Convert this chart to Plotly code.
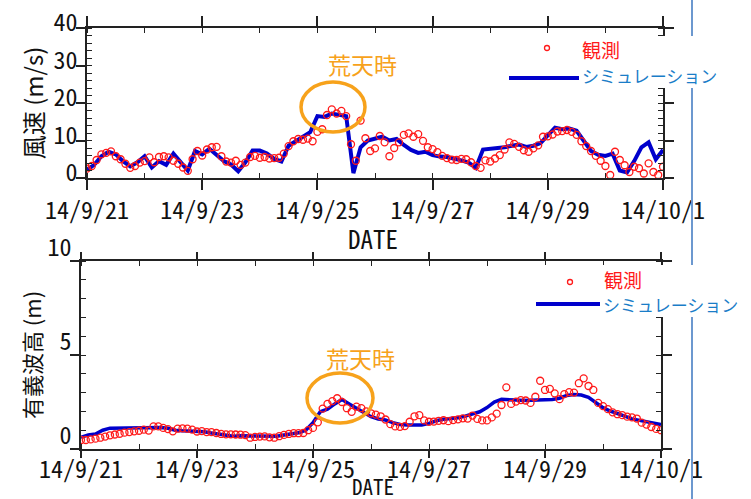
import pandas as pd
import plotly.graph_objects as go

W, H = 751, 499

# ---------------- data ----------------
obs_wind = [
    2.5, 3.2, 4.8, 6.3, 6.7, 7.1, 5.8, 5.0, 3.8, 2.7, 3.2, 4.1,
    4.5, 5.5, 4.2, 5.6, 5.8, 5.5, 4.6, 3.8, 2.8, 1.9, 5.0, 7.2,
    6.0, 7.6, 8.2, 8.3, 5.8, 4.4, 4.1, 4.6, 3.5, 4.1, 5.6, 5.9,
    5.4, 5.6, 5.2, 5.3, 5.4, 6.5, 8.5, 9.8, 10.4, 10.2, 10.5, 9.8,
    12.3, 13.0, 16.8, 18.3, 17.2, 17.9, 16.5, 9.0, 4.6, 15.3, 10.6, 7.2,
    7.9, 11.2, 9.5, 5.8, 8.0, 9.5, 11.5, 11.9, 11.0, 11.7, 9.9, 8.2,
    7.7, 6.9, 5.9, 5.3, 4.9, 4.8, 5.1, 5.0, 4.2, 3.2, 2.7, 4.7,
    4.4, 5.2, 6.1, 7.6, 9.5, 9.1, 8.3, 7.4, 7.0, 7.9, 8.7, 11.0,
    11.1, 11.6, 12.4, 12.5, 12.8, 12.3, 11.5, 9.8, 8.5, 7.2, 5.9, 4.6,
    3.2, 0.8, 7.0, 4.8, 3.4, 1.6, 3.0, 2.6, 1.2, 3.9, 1.6, 0.8,
    3.0,
]
sim_wind = [
    2.2, 3.5, 5.8, 7.0, 6.3, 4.5, 3.1, 4.2,
    5.8, 2.8, 4.5, 3.5, 6.5, 4.2, 2.0, 7.2,
    6.3, 7.8, 6.0, 4.5, 3.6, 1.8, 4.2, 7.3,
    7.3, 6.5, 5.1, 4.4, 8.6, 9.8, 11.0, 12.2,
    16.5, 16.3, 17.2, 16.9, 16.5, 1.3, 8.2, 10.0,
    10.6, 11.0, 10.0, 10.4, 8.8, 7.5, 6.7, 7.0,
    6.1, 5.7, 5.6, 5.2, 4.7, 4.1, 2.7, 7.6,
    7.8, 7.9, 8.2, 8.6, 8.9, 8.3, 8.6, 9.3,
    11.5, 13.4, 13.0, 13.2, 12.6, 10.0, 7.2, 6.2,
    5.9, 6.5, 2.0, 1.5, 4.5, 8.2, 9.5, 5.0,
    7.5,
]
obs_wave = [
    0.48, 0.48, 0.51, 0.55, 0.60, 0.66, 0.73, 0.77, 0.81, 0.87, 0.90, 0.94,
    0.97, 1.03, 0.98, 1.20, 1.20, 1.12, 1.06, 0.94, 1.08, 1.10, 1.08, 1.03,
    0.93, 0.95, 0.90, 0.90, 0.85, 0.80, 0.78, 0.78, 0.77, 0.76, 0.74, 0.60,
    0.64, 0.66, 0.67, 0.62, 0.60, 0.68, 0.75, 0.80, 0.84, 0.84, 0.85, 1.00,
    1.12, 1.42, 2.15, 2.40, 2.55, 2.70, 2.50, 2.17, 1.98, 2.25, 2.17, 2.00,
    1.90, 1.83, 1.74, 1.57, 1.32, 1.20, 1.18, 1.22, 1.45, 1.74, 1.80, 1.52,
    1.45, 1.46, 1.50, 1.53, 1.48, 1.54, 1.58, 1.63, 1.62, 1.78, 1.60, 1.52,
    1.52, 1.68, 1.88, 2.34, 3.28, 2.40, 2.52, 2.60, 2.58, 2.45, 2.78, 3.63,
    3.14, 3.20, 2.96, 2.65, 2.92, 3.02, 3.00, 3.50, 3.76, 3.35, 3.14, 2.45,
    2.28, 2.12, 1.95, 1.85, 1.80, 1.72, 1.68, 1.62, 1.40, 1.30, 1.17, 1.07,
    1.00,
]
sim_wave = [
    0.62, 0.75, 0.80, 1.00, 1.11, 1.12, 1.12, 1.12,
    1.12, 1.13, 1.14, 1.14, 1.10, 1.00, 0.97, 0.95,
    0.94, 0.92, 0.85, 0.78, 0.72, 0.68, 0.70, 0.70,
    0.68, 0.67, 0.66, 0.68, 0.74, 0.82, 0.86, 1.00,
    1.40, 1.98, 2.12, 2.40, 2.63, 2.40, 2.18, 1.95,
    1.72, 1.60, 1.54, 1.40, 1.30, 1.28, 1.30, 1.28,
    1.36, 1.50, 1.58, 1.62, 1.66, 1.75, 1.85, 1.98,
    2.20, 2.50, 2.64, 2.64, 2.60, 2.58, 2.60, 2.61,
    2.62, 2.63, 2.70, 2.85, 2.90, 2.87, 2.75, 2.50,
    2.20, 2.02, 1.90, 1.75, 1.60, 1.52, 1.46, 1.40,
    1.30,
]
obs_time = pd.date_range("2014-09-21", periods=len(obs_wind), freq="2h")
sim_time = pd.date_range("2014-09-21", periods=len(sim_wind), freq="3h")

x_range = ["2014-09-21", "2014-10-01"]
wind_range = [0, 40]
wave_range = [0, 10]
legend_labels = ["観測", "シミュレーション"]
storm_label = "荒天時"
wind_title = "風速 (m/s)"
wave_title = "有義波高 (m)"
x_title = "DATE"

# ---------------- style ----------------
FONT = "Noto Sans CJK JP, Noto Sans, sans-serif"
MONO = "Noto Sans Mono CJK JP, Noto Sans CJK JP, DejaVu Sans Mono, monospace"
RED = "#ff1a1a"
BLUE = "#0000cc"
ORANGE = "#f7a21b"
LEGTXT = "#1a7dc8"
AX = "#222222"

def px(x):
    return x / W

def py(y):
    return 1 - y / H

fig = go.Figure()

obs_marker = dict(symbol="circle-open", size=7, color=RED, line=dict(width=1.3, color=RED))

fig.add_trace(go.Scatter(x=sim_time, y=sim_wind, mode="lines",
                         line=dict(color=BLUE, width=4), xaxis="x", yaxis="y",
                         name=legend_labels[1], showlegend=False))
fig.add_trace(go.Scatter(x=obs_time, y=obs_wind, mode="markers", marker=obs_marker,
                         xaxis="x", yaxis="y", name=legend_labels[0], showlegend=False))
fig.add_trace(go.Scatter(x=sim_time, y=sim_wave, mode="lines",
                         line=dict(color=BLUE, width=3.5), xaxis="x2", yaxis="y2",
                         name=legend_labels[1], showlegend=False))
fig.add_trace(go.Scatter(x=obs_time, y=obs_wave, mode="markers", marker=obs_marker,
                         xaxis="x2", yaxis="y2", name=legend_labels[0], showlegend=False))

tickfont = dict(family=MONO, size=24, color="#111111")

def xaxis_cfg(domain, anchor, ticklen, standoff):
    return dict(domain=domain, anchor=anchor, type="date", range=x_range,
                automargin=False,
                tick0="2014-09-21", dtick=2 * 86400000, tickformat="%y/%-m/%-d",
                ticks="outside", ticklen=ticklen, tickwidth=1.5, tickcolor=AX,
                minor=dict(dtick=86400000, ticks="inside", ticklen=5,
                           tickwidth=1.2, tickcolor=AX),
                showline=True, linecolor=AX, linewidth=1.5, mirror="ticks",
                showgrid=False, zeroline=False, tickfont=tickfont,
                ticklabelstandoff=standoff)

def yaxis_cfg(domain, anchor, rng, dtick, mdtick, title, tsize, standoff, shift):
    return dict(domain=domain, anchor=anchor, range=rng, dtick=dtick,
                automargin=False,
                ticks="outside", ticklen=9, tickwidth=1.5, tickcolor=AX,
                minor=dict(dtick=mdtick, ticks="inside", ticklen=5,
                           tickwidth=1.2, tickcolor=AX),
                showline=True, linecolor=AX, linewidth=1.5, mirror="ticks",
                showgrid=False, zeroline=False, tickfont=tickfont,
                ticklabelstandoff=-6, ticklabelshift=shift,
                title=dict(text=title, font=dict(family=FONT, size=tsize, color="#111111"),
                           standoff=standoff))

top_dom_x = [px(87), px(663)]
top_dom_y = [py(178), py(28)]
bot_dom_x = [px(81), px(661)]
bot_dom_y = [py(449), py(261)]

shapes = []
# vertical separator line at right
shapes.append(dict(type="line", xref="paper", yref="paper", x0=px(692), x1=px(692),
                   y0=0, y1=1, line=dict(color="#6c98cf", width=2), layer="above"))
# legend backgrounds
shapes.append(dict(type="rect", xref="paper", yref="paper", x0=px(505), x1=1,
                   y0=py(88), y1=py(36), fillcolor="white", line=dict(width=0), layer="above"))
shapes.append(dict(type="rect", xref="paper", yref="paper", x0=px(530), x1=1,
                   y0=py(317), y1=py(265), fillcolor="white", line=dict(width=0), layer="above"))
# legend line symbols
shapes.append(dict(type="line", xref="paper", yref="paper", x0=px(509), x1=px(579),
                   y0=py(78), y1=py(78), line=dict(color=BLUE, width=4), layer="above"))
shapes.append(dict(type="line", xref="paper", yref="paper", x0=px(536), x1=px(600),
                   y0=py(304), y1=py(304), line=dict(color=BLUE, width=4), layer="above"))
# legend marker symbols
for cx, cy in [(547, 48), (570, 282)]:
    shapes.append(dict(type="circle", xref="paper", yref="paper",
                       x0=px(cx - 2.5), x1=px(cx + 2.5), y0=py(cy + 2.5), y1=py(cy - 2.5),
                       line=dict(color=RED, width=1.3), layer="above"))
# storm ellipses
shapes.append(dict(type="circle", xref="paper", yref="paper", x0=px(301), x1=px(365),
                   y0=py(132), y1=py(82), line=dict(color=ORANGE, width=3.5), layer="above"))
shapes.append(dict(type="circle", xref="paper", yref="paper", x0=px(307), x1=px(373),
                   y0=py(423), y1=py(373), line=dict(color=ORANGE, width=3.5), layer="above"))

annotations = []
def ann(text, x, y, color, size, xanchor="left", family=FONT):
    annotations.append(dict(text=text, x=px(x), y=py(y), xref="paper", yref="paper",
                            showarrow=False, xanchor=xanchor, yanchor="middle",
                            font=dict(family=family, size=size, color=color)))

ann(legend_labels[0], 580, 50, RED, 19)
ann(legend_labels[1], 580, 75, LEGTXT, 17)
ann(legend_labels[0], 602, 279, RED, 19)
ann(legend_labels[1], 601, 304, LEGTXT, 17)
ann(storm_label, 362, 64, ORANGE, 23, "center")
ann(storm_label, 360, 358, ORANGE, 23, "center")
ann(x_title, 373, 238, "#111111", 25, "center", MONO)
ann(x_title, 373, 486, "#111111", 21, "center", MONO)

fig.update_layout(
    width=W, height=H,
    margin=dict(l=0, r=0, t=0, b=0, autoexpand=False),
    paper_bgcolor="white", plot_bgcolor="white",
    showlegend=False,
    xaxis=xaxis_cfg(top_dom_x, "y", 10, 0),
    yaxis=yaxis_cfg(top_dom_y, "x", wind_range, 10, 2, wind_title, 24, 3, -5),
    xaxis2=xaxis_cfg(bot_dom_x, "y2", 7, -9),
    yaxis2=yaxis_cfg(bot_dom_y, "x2", wave_range, 5, 1, wave_title, 22, 0, -13),
    shapes=shapes,
    annotations=annotations,
    font=dict(family=FONT),
)

fig.write_html("out.html")
